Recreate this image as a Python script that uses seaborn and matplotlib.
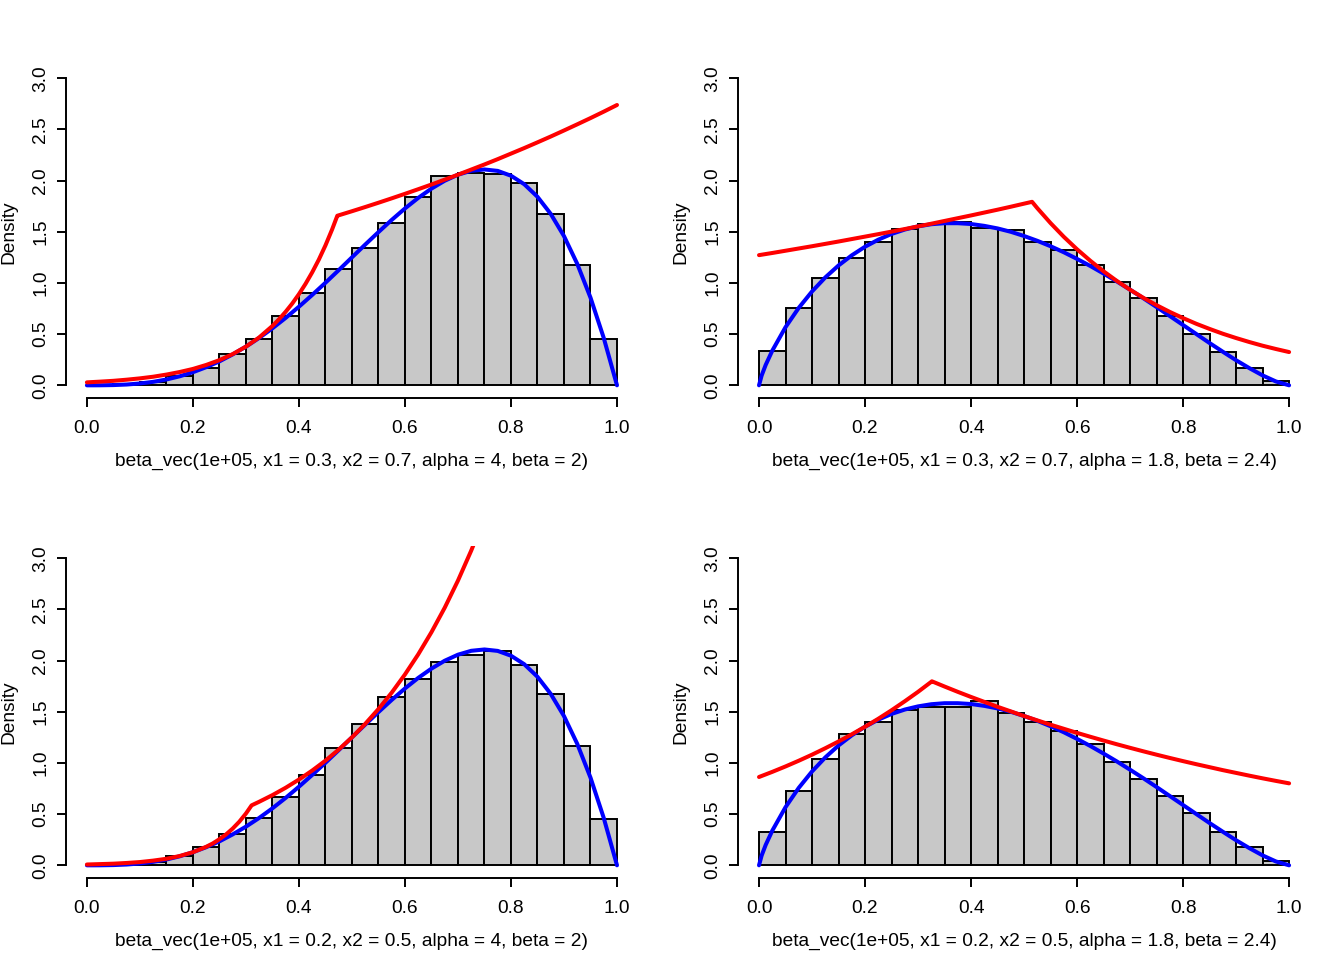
import matplotlib
matplotlib.use("Agg")
import matplotlib.pyplot as plt
from matplotlib.ticker import FormatStrFormatter
import seaborn as sns

# --- Style ---
sns.set_style("ticks")
plt.rcParams['font.family'] = ['Liberation Sans', 'DejaVu Sans']
plt.rcParams['font.size'] = 13.8
for key in ['text.color', 'axes.labelcolor', 'xtick.color', 'ytick.color', 'axes.edgecolor']:
    plt.rcParams[key] = 'black'

# --- Data ---
bin_mid = [0.025, 0.075, 0.125, 0.175, 0.225, 0.275, 0.325, 0.375, 0.425, 0.475,
           0.525, 0.575, 0.625, 0.675, 0.725, 0.775, 0.825, 0.875, 0.925, 0.975]

hist_1 = [0.001, 0.009, 0.035, 0.091, 0.172, 0.306, 0.450, 0.677, 0.899, 1.137,
          1.342, 1.589, 1.843, 2.048, 2.078, 2.068, 1.980, 1.674, 1.173, 0.450]
hist_2 = [0.335, 0.759, 1.049, 1.244, 1.404, 1.527, 1.573, 1.593, 1.541, 1.515,
          1.404, 1.326, 1.173, 1.010, 0.856, 0.681, 0.502, 0.325, 0.166, 0.042]
hist_3 = [0.001, 0.009, 0.033, 0.091, 0.179, 0.303, 0.465, 0.670, 0.882, 1.143,
          1.378, 1.645, 1.824, 1.987, 2.055, 2.097, 1.960, 1.674, 1.166, 0.450]
hist_4 = [0.325, 0.726, 1.039, 1.280, 1.400, 1.521, 1.550, 1.547, 1.603, 1.491,
          1.404, 1.316, 1.189, 1.010, 0.843, 0.680, 0.508, 0.328, 0.176, 0.045]

# blue curves (true density)
blue_x = [0.0, 0.005, 0.0125, 0.025, 0.05, 0.075, 0.1, 0.125, 0.15, 0.175, 0.2, 0.225,
          0.25, 0.275, 0.3, 0.325, 0.35, 0.375, 0.4, 0.425, 0.45, 0.475, 0.5, 0.525,
          0.55, 0.575, 0.6, 0.625, 0.65, 0.675, 0.7, 0.725, 0.75, 0.775, 0.8, 0.825,
          0.85, 0.875, 0.9, 0.925, 0.95, 0.975, 1.0]
blue_a = [0.0, 0.0, 0.0, 0.0003, 0.0024, 0.0078, 0.018, 0.034, 0.057, 0.088, 0.128, 0.177,
          0.234, 0.302, 0.378, 0.463, 0.557, 0.659, 0.768, 0.883, 1.002, 1.125, 1.25, 1.375,
          1.497, 1.616, 1.728, 1.831, 1.922, 1.999, 2.058, 2.096, 2.109, 2.095, 2.048, 1.965,
          1.842, 1.675, 1.458, 1.187, 0.857, 0.463, 0.0]
blue_b = [0.0, 0.096, 0.198, 0.338, 0.568, 0.757, 0.917, 1.054, 1.171, 1.270, 1.354, 1.423,
          1.479, 1.522, 1.553, 1.574, 1.584, 1.584, 1.576, 1.558, 1.533, 1.500, 1.459, 1.412,
          1.359, 1.300, 1.235, 1.166, 1.092, 1.015, 0.934, 0.851, 0.765, 0.677, 0.589, 0.501,
          0.413, 0.328, 0.245, 0.168, 0.097, 0.038, 0.0]

# red curves (envelopes)
red_x_1 = [0.0, 0.025, 0.05, 0.075, 0.1, 0.125, 0.15, 0.175, 0.2, 0.225, 0.25, 0.275, 0.3,
           0.325, 0.35, 0.3625, 0.375, 0.3875, 0.4, 0.4125, 0.425, 0.4375, 0.45, 0.4625,
           0.4724, 0.475, 0.5, 0.525, 0.55, 0.575,
           0.6, 0.625, 0.65, 0.675, 0.7, 0.725, 0.75, 0.775, 0.8, 0.825, 0.85, 0.875,
           0.9, 0.925, 0.95, 0.975, 1.0]
red_y_1 = [0.029, 0.036, 0.044, 0.055, 0.068, 0.084, 0.105, 0.130, 0.160, 0.199, 0.246,
           0.305, 0.378, 0.468, 0.580, 0.646, 0.719, 0.800, 0.891, 0.992, 1.104, 1.228,
           1.367, 1.522, 1.657, 1.661, 1.701,
           1.742, 1.784, 1.827, 1.871, 1.916, 1.962, 2.010, 2.058, 2.108, 2.158, 2.210,
           2.264, 2.318, 2.374, 2.431, 2.490, 2.550, 2.611, 2.674, 2.739]

red_x_2 = [0.0, 0.025, 0.05, 0.075, 0.1, 0.125, 0.15, 0.175, 0.2, 0.225, 0.25, 0.275, 0.3,
           0.325, 0.35, 0.375, 0.4, 0.425, 0.45, 0.475, 0.5, 0.5151, 0.525, 0.55, 0.575,
           0.6, 0.625, 0.65, 0.675, 0.7, 0.725, 0.75, 0.775, 0.8, 0.825, 0.85, 0.875,
           0.9, 0.925, 0.95, 0.975, 1.0]
red_y_2 = [1.272, 1.293, 1.315, 1.337, 1.359, 1.382, 1.405, 1.429, 1.453, 1.477, 1.502,
           1.527, 1.553, 1.579, 1.606, 1.633, 1.660, 1.688, 1.716, 1.745, 1.775, 1.793,
           1.731, 1.585, 1.451, 1.329, 1.217, 1.114, 1.020, 0.934, 0.855, 0.783, 0.717,
           0.657, 0.601, 0.551, 0.504, 0.462, 0.423, 0.387, 0.355, 0.325]

red_x_3 = [0.0, 0.025, 0.05, 0.075, 0.1, 0.125, 0.15, 0.175, 0.2, 0.225, 0.2375, 0.25,
           0.2625, 0.275, 0.2875, 0.3,
           0.3107, 0.325, 0.35, 0.375, 0.4, 0.425, 0.45, 0.475, 0.5, 0.525, 0.55, 0.575,
           0.6, 0.625, 0.65, 0.675, 0.7, 0.725, 0.75, 0.775]
red_y_3 = [0.008, 0.012, 0.016, 0.023, 0.032, 0.046, 0.064, 0.091, 0.128, 0.181, 0.214,
           0.255, 0.302, 0.359, 0.426, 0.506, 0.586, 0.621, 0.686, 0.758, 0.838, 0.926,
           1.023, 1.131, 1.25, 1.382, 1.527, 1.687, 1.865, 2.061, 2.278, 2.517, 2.782,
           3.075, 3.398, 3.755]

red_x_4 = [0.0, 0.025, 0.05, 0.075, 0.1, 0.125, 0.15, 0.175, 0.2, 0.225, 0.25, 0.275, 0.3,
           0.325, 0.3261, 0.35, 0.375, 0.4, 0.425, 0.45, 0.475, 0.5, 0.525, 0.55, 0.575,
           0.6, 0.625, 0.65, 0.675, 0.7, 0.725, 0.75, 0.775, 0.8, 0.825, 0.85, 0.875,
           0.9, 0.925, 0.95, 0.975, 1.0]
red_y_4 = [0.863, 0.913, 0.966, 1.022, 1.081, 1.144, 1.210, 1.280, 1.354, 1.432, 1.515,
           1.603, 1.695, 1.793, 1.798, 1.747, 1.695, 1.645, 1.597, 1.549, 1.504, 1.459,
           1.416, 1.374, 1.334, 1.294, 1.256, 1.219, 1.183, 1.148, 1.114, 1.081, 1.049,
           1.018, 0.988, 0.959, 0.930, 0.903, 0.876, 0.850, 0.825, 0.801]

x_labels = [
    "beta_vec(1e+05, x1 = 0.3, x2 = 0.7, alpha = 4, beta = 2)",
    "beta_vec(1e+05, x1 = 0.3, x2 = 0.7, alpha = 1.8, beta = 2.4)",
    "beta_vec(1e+05, x1 = 0.2, x2 = 0.5, alpha = 4, beta = 2)",
    "beta_vec(1e+05, x1 = 0.2, x2 = 0.5, alpha = 1.8, beta = 2.4)",
]

panels = [
    (hist_1, blue_a, red_x_1, red_y_1),
    (hist_2, blue_b, red_x_2, red_y_2),
    (hist_3, blue_a, red_x_3, red_y_3),
    (hist_4, blue_b, red_x_4, red_y_4),
]

# --- Layout (R-like 2x2 plot regions) ---
ax_w, ax_h = 0.42597, 0.34542
positions = [
    [0.04888, 0.58583, ax_w, ax_h],
    [0.54896, 0.58583, ax_w, ax_h],
    [0.04888, 0.08583, ax_w, ax_h],
    [0.54896, 0.08583, ax_w, ax_h],
]

fig = plt.figure(figsize=(13.44, 9.6), dpi=100)

for pos, (hist, blue_y, red_x, red_y), xlab in zip(positions, panels, x_labels):
    ax = fig.add_axes(pos)
    sns.histplot(x=bin_mid, weights=hist, binwidth=0.05, binrange=(0, 1),
                 color="#C8C8C8", edgecolor="black", linewidth=1.4, alpha=1, ax=ax)
    sns.lineplot(x=blue_x, y=blue_y, color="blue", linewidth=2.9, ax=ax)
    sns.lineplot(x=red_x, y=red_y, color="red", linewidth=2.9, ax=ax)

    ax.set_xlim(-0.04, 1.04)
    ax.set_ylim(-0.12, 3.12)
    ax.set_xticks([0.0, 0.2, 0.4, 0.6, 0.8, 1.0])
    ax.set_yticks([0.0, 0.5, 1.0, 1.5, 2.0, 2.5, 3.0])
    ax.xaxis.set_major_formatter(FormatStrFormatter('%.1f'))
    ax.yaxis.set_major_formatter(FormatStrFormatter('%.1f'))

    for side in ['top', 'right']:
        ax.spines[side].set_visible(False)
    ax.spines['left'].set_bounds(0, 3)
    ax.spines['bottom'].set_bounds(0, 1)
    ax.spines['left'].set_linewidth(1.4)
    ax.spines['bottom'].set_linewidth(1.4)
    ax.tick_params(length=6.8, width=1.4, labelsize=13.8, color="black", labelcolor="black")
    ax.tick_params(axis='x', pad=9)
    ax.tick_params(axis='y', pad=5)
    for lab in ax.get_yticklabels():
        lab.set_rotation(90)
        lab.set_va('center')

    ax.set_xlabel(xlab, fontsize=13.8, labelpad=12)
    ax.set_ylabel("Density", fontsize=13.8, labelpad=11)

fig.savefig("out.png", dpi=100)
